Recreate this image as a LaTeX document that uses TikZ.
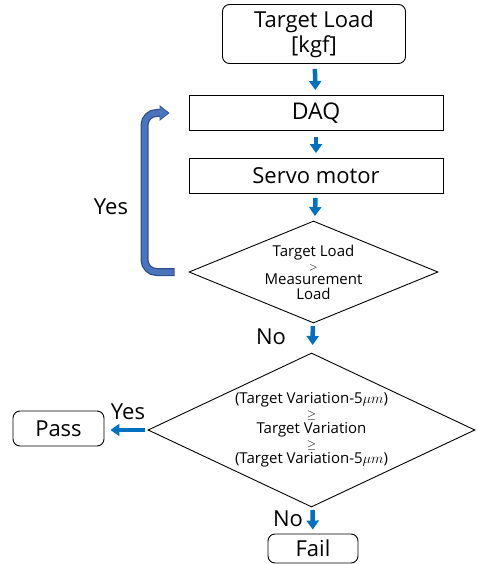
\documentclass[tikz,border=0pt]{standalone}
\usepackage{fontspec}
\setmainfont{Open Sans}
\usetikzlibrary{shapes.geometric,arrows.meta}
\definecolor{arrblue}{HTML}{0070C0}
\definecolor{loopfill}{HTML}{4A74BC}
\definecolor{loopline}{HTML}{2F4F8F}
\begin{document}
\begin{tikzpicture}[x=1pt,y=-1pt,
  every node/.style={font=\fontsize{22}{25}\selectfont},
  procbox/.style={draw, line width=0.9pt, inner sep=0pt, minimum width=254pt, minimum height=35pt},
  termbox/.style={draw, line width=0.9pt, rounded corners=7pt, inner sep=0pt, align=center},
  decision/.style={draw, line width=0.9pt, diamond, inner sep=0pt, align=center},
  blk/.style={draw=arrblue, line width=4.5pt, -{Triangle[width=12pt,length=9pt]}},
  lbl/.style={inner sep=0pt}
]
\useasboundingbox (0,0) rectangle (477,564);
\node[termbox, minimum width=183pt, minimum height=59pt, font=\fontsize{22}{25}\selectfont] (tl) at (314,34) {Target Load\\{[}kgf{]}};
\node[procbox, font=\fontsize{23}{25}\selectfont] (daq) at (316,113) {DAQ};
\node[procbox] (servo) at (316,176) {Servo motor};
\node[decision, aspect=2.44, minimum width=249pt, minimum height=102pt, font=\fontsize{15}{15}\selectfont] (d1) at (313.5,272) {Target Load\\[-1pt]{\fontsize{11}{11}\selectfont $>$}\\[-1pt]Measurement\\Load};
\node[decision, aspect=2.12, minimum width=327pt, minimum height=154pt, font=\fontsize{15}{15}\selectfont] (d2) at (311.5,430) {(Target Variation-5$\mu m$)\\{\fontsize{12}{12}\selectfont $\geq$}\\Target Variation\\{\fontsize{12}{12}\selectfont $\geq$}\\(Target Variation-5$\mu m$)};
\node[termbox, minimum width=91pt, minimum height=35pt] (pass) at (58.5,428.5) {Pass};
\node[termbox, minimum width=90pt, minimum height=29pt] (fail) at (313,548.5) {Fail};
% arrows
\draw[blk, shorten <=5pt, shorten >=5pt] (tl) -- (daq);
\draw[blk, shorten <=6pt, shorten >=5pt] (daq) -- (servo);
\draw[blk, shorten <=4pt, shorten >=5pt] (servo) -- (d1);
\draw[blk, shorten <=3pt, shorten >=8pt] (d1) -- (d2);
\draw[blk, shorten <=3pt, shorten >=4pt] (d2) -- (fail);
\draw[blk, shorten <=3pt, shorten >=6pt] (d2.west) -- (pass.east |- d2.west);
% loop arrow
\draw[draw=loopline, line width=8pt, rounded corners=12pt, -{Triangle[width=15pt,length=10pt]}]
  ([xshift=-14pt]d1.west) -- ++(-30,0) |- ([xshift=-19pt]daq.west);
\draw[draw=loopfill, line width=5.5pt, rounded corners=12pt, -{Triangle[width=12pt,length=8pt]}, shorten <=1pt, shorten >=1.5pt]
  ([xshift=-14pt]d1.west) -- ++(-30,0) |- ([xshift=-19pt]daq.west);
% labels
\node[lbl] (yes1) at (111,207) {Yes};
\node[lbl] (no1) at (271,337) {No};
\node[lbl] (yes2) at (128,412) {Yes};
\node[lbl] (no2) at (288,519) {No};
\end{tikzpicture}
\end{document}
